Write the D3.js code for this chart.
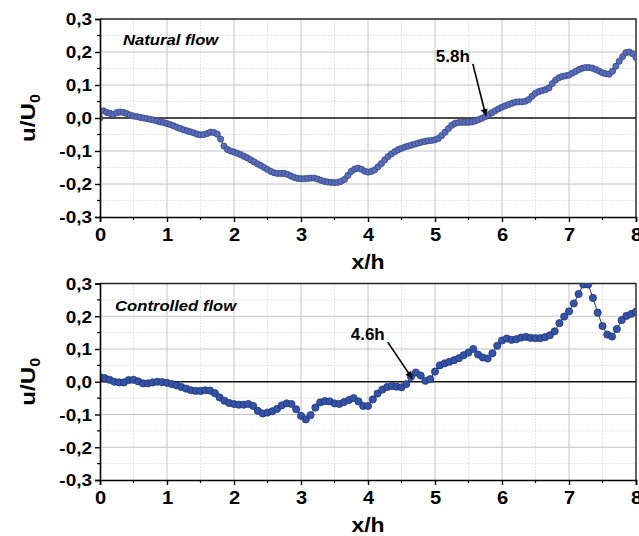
<!DOCTYPE html>
<html>
<head>
<meta charset="utf-8">
<script src="https://cdn.jsdelivr.net/npm/d3@7/dist/d3.min.js"></script>
<style>
  body { margin: 0; background: #fff; }
  svg { display: block; }
  text { font-family: "Liberation Sans", Arial, Helvetica, sans-serif; font-weight: bold; fill: #000; }
</style>
</head>
<body>
<svg id="chart" width="639" height="536"></svg>
<script>
// Streamwise velocity u/U0 along x/h, sampled at regular stations
const naturalStep = 0.05;
const naturalU = [
  0.000, 0.022, 0.017, 0.014, 0.011, 0.016, 0.018, 0.017, 0.013, 0.009,
  0.006, 0.004, 0.002, 0.000, -0.002, -0.004, -0.006, -0.009, -0.012, -0.014,
  -0.017, -0.020, -0.024, -0.028, -0.032, -0.036, -0.039, -0.042, -0.045, -0.049,
  -0.051, -0.050, -0.047, -0.043, -0.044, -0.049, -0.064, -0.085, -0.095, -0.100,
  -0.103, -0.107, -0.111, -0.116, -0.121, -0.127, -0.133, -0.139, -0.144, -0.150,
  -0.156, -0.162, -0.166, -0.168, -0.168, -0.168, -0.171, -0.176, -0.180, -0.183,
  -0.184, -0.184, -0.183, -0.182, -0.182, -0.185, -0.189, -0.192, -0.194, -0.195,
  -0.196, -0.195, -0.192, -0.186, -0.174, -0.162, -0.155, -0.152, -0.155, -0.161,
  -0.164, -0.162, -0.157, -0.148, -0.138, -0.127, -0.117, -0.109, -0.102, -0.096,
  -0.092, -0.088, -0.085, -0.082, -0.079, -0.076, -0.073, -0.071, -0.069, -0.068,
  -0.066, -0.062, -0.053, -0.043, -0.032, -0.022, -0.016, -0.014, -0.013, -0.013,
  -0.013, -0.012, -0.009, -0.005, -0.001, 0.004, 0.010, 0.016, 0.022, 0.028,
  0.033, 0.037, 0.041, 0.045, 0.048, 0.049, 0.049, 0.051, 0.056, 0.066,
  0.075, 0.080, 0.083, 0.086, 0.091, 0.104, 0.115, 0.122, 0.126, 0.128,
  0.130, 0.136, 0.141, 0.147, 0.151, 0.153, 0.153, 0.151, 0.147, 0.142,
  0.137, 0.134, 0.133, 0.142, 0.157, 0.172, 0.186, 0.198, 0.200, 0.195,
  0.183
];

const controlledStep = 1 / 14;
const controlledU = [
  0.014, 0.011, 0.006, 0.000, -0.002, -0.002, 0.005, 0.006, 0.001, -0.005,
  -0.005, -0.002, 0.000, -0.001, -0.003, -0.007, -0.011, -0.016, -0.021, -0.026,
  -0.028, -0.028, -0.026, -0.027, -0.035, -0.048, -0.058, -0.065, -0.068, -0.070,
  -0.070, -0.068, -0.074, -0.089, -0.097, -0.094, -0.090, -0.083, -0.072, -0.066,
  -0.068, -0.084, -0.104, -0.115, -0.102, -0.079, -0.063, -0.059, -0.060, -0.066,
  -0.068, -0.062, -0.056, -0.050, -0.060, -0.074, -0.074, -0.054, -0.036, -0.024,
  -0.016, -0.013, -0.015, -0.017, -0.007, 0.015, 0.028, 0.019, 0.003, 0.008,
  0.031, 0.050, 0.056, 0.061, 0.066, 0.072, 0.081, 0.089, 0.100, 0.083,
  0.074, 0.071, 0.087, 0.110, 0.126, 0.132, 0.128, 0.130, 0.135, 0.137,
  0.134, 0.133, 0.133, 0.136, 0.142, 0.154, 0.179, 0.199, 0.215, 0.239,
  0.268, 0.297, 0.297, 0.256, 0.211, 0.170, 0.144, 0.138, 0.161, 0.188,
  0.201, 0.207, 0.214
];

const xTicks = [0, 1, 2, 3, 4, 5, 6, 7, 8];
const xMinorTicks = [0.5, 1.5, 2.5, 3.5, 4.5, 5.5, 6.5, 7.5];
const yTicks = [-0.3, -0.2, -0.1, 0.0, 0.1, 0.2, 0.3];
const yMinorTicks = [-0.25, -0.15, -0.05, 0.05, 0.15, 0.25];

const panelTitles = ["Natural flow", "Controlled flow"];
// reattachment annotations: label text, label anchor (x, u), arrow tip (x, u)
const annotLabels = ["5.8h", "4.6h"];
const annotLabelAt = [[5.52, 0.170], [4.25, 0.127]];
const annotTip = [[5.76, 0.006], [4.66, 0.010]];

const locale = d3.formatLocale({ decimal: ",", thousands: ".", grouping: [3], currency: ["", ""], minus: "-" });
const fmtY = locale.format(".1f");

const svg = d3.select("#chart");
const stretch = 1.15; // wide lettering

const defs = svg.append("defs");
defs.append("marker")
  .attr("id", "arrowhead")
  .attr("viewBox", "0 0 10 10")
  .attr("refX", 10).attr("refY", 5)
  .attr("markerWidth", 10).attr("markerHeight", 7)
  .attr("markerUnits", "userSpaceOnUse")
  .attr("orient", "auto")
  .append("path").attr("d", "M0,0 L10,5 L0,10 Z").attr("fill", "#000");

const panels = [
  { top: 19, bottom: 217, step: naturalStep, values: naturalU, title: panelTitles[0],
    titleDx: 23, titleDy: 26, fill: "#5a6db8", stroke: "#34468a", r: 3.1,
    label: annotLabels[0], labelAt: annotLabelAt[0], tip: annotTip[0] },
  { top: 283.5, bottom: 480, step: controlledStep, values: controlledU, title: panelTitles[1],
    titleDx: 15, titleDy: 27, fill: "#3453a8", stroke: "#1e3474", r: 3.6,
    label: annotLabels[1], labelAt: annotLabelAt[1], tip: annotTip[1] }
];

const left = 100, right = 636;

panels.forEach((p, pi) => {
  const x = d3.scaleLinear().domain([0, 8]).range([left, right]);
  const y = d3.scaleLinear().domain([-0.3, 0.3]).range([p.bottom, p.top]);
  const g = svg.append("g");

  // grid: dotted minor, solid major
  const grid = g.append("g");
  grid.selectAll(".gxm").data(xMinorTicks).join("line")
    .attr("x1", d => x(d)).attr("x2", d => x(d)).attr("y1", p.top).attr("y2", p.bottom)
    .attr("stroke", "#d6d6d6").attr("stroke-width", 0.8).attr("stroke-dasharray", "1.5,1.5");
  grid.selectAll(".gym").data(yMinorTicks).join("line")
    .attr("x1", left).attr("x2", right).attr("y1", d => y(d)).attr("y2", d => y(d))
    .attr("stroke", "#d6d6d6").attr("stroke-width", 0.8).attr("stroke-dasharray", "1.5,1.5");
  grid.selectAll(".gx").data(xTicks.slice(1, -1)).join("line")
    .attr("x1", d => x(d)).attr("x2", d => x(d)).attr("y1", p.top).attr("y2", p.bottom)
    .attr("stroke", "#c4c4c4").attr("stroke-width", 1);
  grid.selectAll(".gy").data(yTicks.filter(v => Math.abs(v) > 1e-9 && Math.abs(v) < 0.29)).join("line")
    .attr("x1", left).attr("x2", right).attr("y1", d => y(d)).attr("y2", d => y(d))
    .attr("stroke", "#c4c4c4").attr("stroke-width", 1);

  // zero line
  g.append("line").attr("x1", left).attr("x2", right).attr("y1", y(0)).attr("y2", y(0))
    .attr("stroke", "#111").attr("stroke-width", 1.4);

  // frame (top and right)
  g.append("path")
    .attr("d", `M${left},${p.top}H${right}V${p.bottom}`)
    .attr("fill", "none").attr("stroke", "#222").attr("stroke-width", 1.4);

  // data
  const clipId = "clip" + pi;
  defs.append("clipPath").attr("id", clipId)
    .append("rect").attr("x", left).attr("y", p.top).attr("width", right - left).attr("height", p.bottom - p.top);
  const pts = p.values.map((v, i) => ({ x: i * p.step, u: v }));
  const plot = g.append("g").attr("clip-path", `url(#${clipId})`);
  plot.append("path").datum(pts)
    .attr("d", d3.line().x(d => x(d.x)).y(d => y(d.u)))
    .attr("fill", "none").attr("stroke", "#1a1a1a").attr("stroke-width", 0.9);
  plot.selectAll("circle").data(pts).join("circle")
    .attr("cx", d => x(d.x)).attr("cy", d => y(d.u)).attr("r", p.r)
    .attr("fill", p.fill).attr("stroke", p.stroke).attr("stroke-width", 0.8);

  // axes
  const ax = g.append("g").attr("transform", `translate(0,${p.bottom})`)
    .call(d3.axisBottom(x).tickValues(xTicks).tickSize(5).tickPadding(6).tickFormat(d3.format("d")));
  ax.append("g").selectAll("line").data(xMinorTicks).join("line")
    .attr("x1", d => x(d)).attr("x2", d => x(d)).attr("y1", 0).attr("y2", 3).attr("stroke", "#000").attr("stroke-width", 1.2);
  const ay = g.append("g").attr("transform", `translate(${left},0)`)
    .call(d3.axisLeft(y).tickValues(yTicks).tickSize(5).tickPadding(3).tickFormat(fmtY));
  ay.append("g").selectAll("line").data(yMinorTicks).join("line")
    .attr("x1", -3).attr("x2", 0).attr("y1", d => y(d)).attr("y2", d => y(d)).attr("stroke", "#000").attr("stroke-width", 1.2);

  [ax, ay].forEach(a => {
    a.attr("font-family", null);
    a.select(".domain").attr("stroke", "#000").attr("stroke-width", 1.6);
    a.selectAll(".tick line").attr("stroke", "#000").attr("stroke-width", 1.4);
  });
  ax.selectAll(".tick text")
    .attr("font-size", 17.5).attr("font-weight", "bold").attr("fill", "#000")
    .attr("y", 24).attr("dy", 0)
    .attr("transform", `scale(${stretch},1)`);
  ay.selectAll(".tick text")
    .attr("font-size", 16.5).attr("font-weight", "bold").attr("fill", "#000")
    .attr("x", -8 / stretch).attr("dy", "0.36em")
    .attr("transform", `scale(${stretch},1)`);

  // axis titles
  svg.append("text")
    .attr("transform", `translate(${(left + right) / 2},${p.bottom + 52}) scale(${stretch},1)`)
    .attr("text-anchor", "middle").attr("font-size", 20).text("x/h");
  const yl = svg.append("text")
    .attr("transform", `translate(35,${(p.top + p.bottom) / 2}) rotate(-90) scale(${stretch},1)`)
    .attr("text-anchor", "middle").attr("font-size", 21);
  yl.append("tspan").text("u/U");
  yl.append("tspan").attr("font-size", 14).attr("dy", 5).text("0");

  // panel title
  svg.append("text")
    .attr("transform", `translate(${left + p.titleDx},${p.top + p.titleDy}) scale(1.15,1)`)
    .attr("font-size", 14.5).attr("font-style", "italic").text(p.title);

  // annotation
  svg.append("text")
    .attr("x", x(p.labelAt[0])).attr("y", y(p.labelAt[1]))
    .attr("text-anchor", "end").attr("font-size", 17).text(p.label);
  svg.append("line")
    .attr("x1", x(p.labelAt[0]) + 3).attr("y1", y(p.labelAt[1]) + 2)
    .attr("x2", x(p.tip[0])).attr("y2", y(p.tip[1]))
    .attr("stroke", "#000").attr("stroke-width", 1.6)
    .attr("marker-end", "url(#arrowhead)");
});
</script>
</body>
</html>
